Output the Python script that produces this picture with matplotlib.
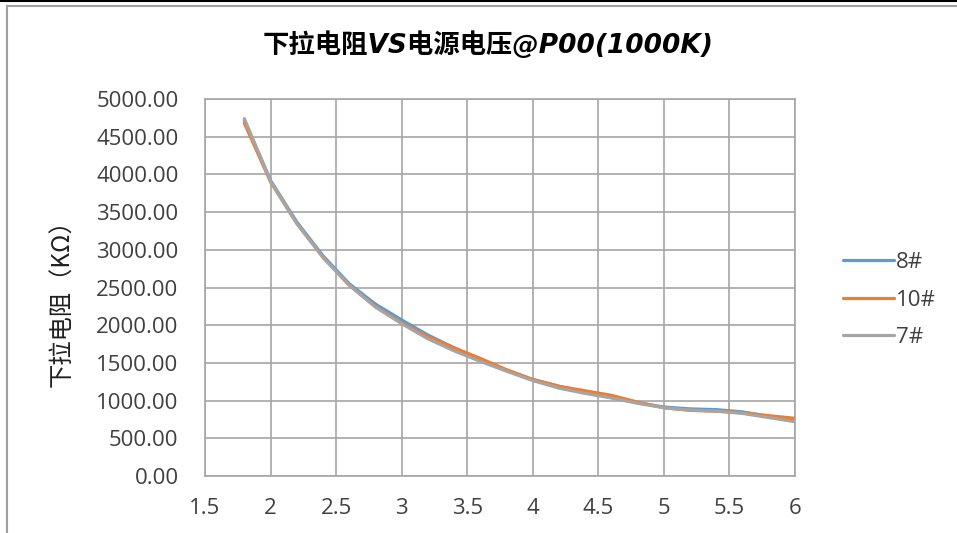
import matplotlib
matplotlib.use('Agg')
from matplotlib import pyplot as plt
from matplotlib.lines import Line2D

plt.rcParams['font.family'] = ['Open Sans', 'Noto Sans CJK SC', 'DejaVu Sans']

voltage = [1.8, 2.0, 2.2, 2.4, 2.6, 2.8, 3.0, 3.2, 3.4, 3.6, 3.8,
           4.0, 4.2, 4.4, 4.6, 4.8, 5.0, 5.2, 5.4, 5.6, 5.8, 6.0]
r_8 = [4720, 3920, 3370, 2920, 2550, 2280, 2070, 1870, 1700, 1540, 1400,
       1280, 1190, 1110, 1040, 970, 915, 890, 880, 850, 790, 730]
r_10 = [4680, 3900, 3350, 2900, 2530, 2250, 2030, 1850, 1700, 1560, 1410,
        1280, 1190, 1130, 1070, 980, 905, 870, 860, 840, 800, 765]
r_7 = [4740, 3910, 3350, 2900, 2530, 2240, 2020, 1820, 1660, 1520, 1390,
       1265, 1165, 1095, 1035, 965, 905, 875, 860, 830, 775, 720]

series = [
    ['8#', r_8, '#5b9bd5'],
    ['10#', r_10, '#ed7d31'],
    ['7#', r_7, '#a5a5a5'],
]

fig = plt.figure(figsize=(9.57, 5.33), dpi=100)
ax = fig.add_axes([205 / 957, 1 - 476 / 533, 590 / 957, 377 / 533])

for name, vals, color in series:
    ax.plot(voltage, vals, color=color, lw=2.3, label=name, solid_capstyle='round')

ax.set_xlim(1.5, 6)
ax.set_ylim(0, 5000)
ax.set_xticks([1.5, 2, 2.5, 3, 3.5, 4, 4.5, 5, 5.5, 6])
ax.set_xticklabels(['1.5', '2', '2.5', '3', '3.5', '4', '4.5', '5', '5.5', '6'])
ax.set_yticks(range(0, 5001, 500))
ax.set_yticklabels([f'{v:.2f}' for v in range(0, 5001, 500)])
ax.grid(True, color='#a6a6a6', lw=1.2)
ax.set_axisbelow(True)
for s in ax.spines.values():
    s.set_color('#a6a6a6')
    s.set_linewidth(1.2)
ax.tick_params(length=0, labelsize=16, colors='#404040')
ax.tick_params(axis='x', pad=16)
ax.tick_params(axis='y', pad=19)

fig.text(488 / 957, 1 - 45 / 533, '下拉电阻VS电源电压@P00(1000K)', fontsize=19,
         fontweight='bold', style='italic', ha='center', va='center',
         family=['DejaVu Sans', 'Noto Sans CJK SC'])
fig.text(62 / 957, 1 - 297 / 533, '下拉电阻（KΩ）', fontsize=17.5, rotation=90,
         ha='center', va='center', color='#202020',
         family=['Noto Sans CJK SC', 'DejaVu Sans'])

fig.legend(loc='center left', bbox_to_anchor=(823 / 957, 1 - 300 / 533),
           frameon=False, fontsize=16, handlelength=2.3, handletextpad=0.1,
           labelspacing=0.75, labelcolor='#404040')

fig.add_artist(Line2D([0, 1], [1 - 0.5 / 533, 1 - 0.5 / 533], color='black', lw=1.5))
fig.add_artist(Line2D([6.5 / 957, 1], [1 - 5.5 / 533, 1 - 5.5 / 533], color='#a0a0a0', lw=1.5))
fig.add_artist(Line2D([6.5 / 957, 6.5 / 957], [0, 1 - 5.5 / 533], color='#a0a0a0', lw=1.5))

fig.savefig('out.png', dpi=100)
